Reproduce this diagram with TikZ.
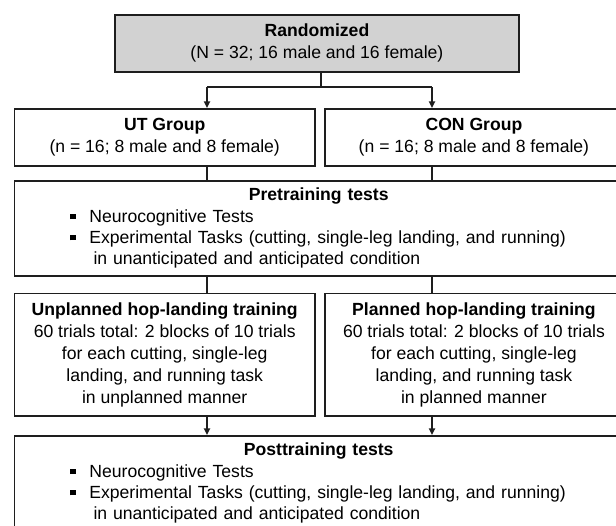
\documentclass[tikz,border=0pt]{standalone}
\usepackage{fontspec}
\setmainfont{Liberation Sans}
\usetikzlibrary{arrows.meta}
\definecolor{boxline}{RGB}{30,30,30}
\definecolor{randgray}{RGB}{210,210,210}
\newcommand{\sqitem}{\hspace*{42pt}\makebox[14.2pt][l]{\rule[0.18em]{0.3em}{0.3em}}}
\newcommand{\contline}{\hspace*{59.3pt}}

\begin{document}
\begin{tikzpicture}[x=0.75pt,y=-0.75pt,
  box/.style={draw=boxline,line width=1.4pt,anchor=north west,inner sep=0pt,align=center,font=\fontsize{13.2pt}{16.5pt}\selectfont},
  grp/.style={box,minimum height=42.75pt},
  lst/.style={box,align=left,text width=456.4pt,minimum height=71.25pt,font=\fontsize{13.2pt}{16pt}\selectfont},
  trn/.style={box,minimum height=91.9pt},
  ln/.style={draw=boxline,line width=1.3pt},
  f/.style={ln,-{Triangle[length=5pt,width=4.6pt]}}]
\useasboundingbox (0,0) rectangle (616,525);
\clip (0,0) rectangle (616,525);
% boxes
\node[grp,fill=randgray,minimum width=303pt] (rand) at (114,14) {\textbf{Randomized}\\(N = 32; 16 male and 16 female)};
\node[grp,minimum width=225.4pt] (ut) at (13.5,108) {\textbf{UT Group}\\(n = 16; 8 male and 8 female)};
\node[grp,minimum width=223.5pt] (con) at (324,108) {\textbf{CON Group}\\(n = 16; 8 male and 8 female)};
\node[lst] (pre) at (13.5,180) {\centerline{\textbf{Pretraining tests}}
  \sqitem Neurocognitive Tests\\
  \sqitem Experimental Tasks (cutting, single-leg landing, and running)\\
  \contline in unanticipated and anticipated condition};
\node[trn,minimum width=225.4pt] (utt) at (13.5,292.5) {\textbf{Unplanned hop-landing training}\\60 trials total: 2 blocks of 10 trials\\for each cutting, single-leg\\landing, and running task\\in unplanned manner};
\node[trn,minimum width=223.5pt] (cont) at (324,292.5) {\textbf{Planned hop-landing training}\\60 trials total: 2 blocks of 10 trials\\for each cutting, single-leg\\landing, and running task\\in planned manner};
\node[lst] (post) at (13.5,435) {\centerline{\textbf{Posttraining tests}}
  \sqitem Neurocognitive Tests\\
  \sqitem Experimental Tasks (cutting, single-leg landing, and running)\\
  \contline in unanticipated and anticipated condition};
% connectors
\coordinate (sp) at (321,87);
\coordinate (jl) at (207,87);
\coordinate (jr) at (432,87);
\draw[ln] (sp |- rand.south) -- (sp);
\draw[ln] (jl) -- (jr);
\draw[f] (jl) -- (jl |- ut.north);
\draw[f] (jr) -- (jr |- con.north);
\draw[ln] (jl |- ut.south) -- (jl |- pre.north);
\draw[ln] (jr |- con.south) -- (jr |- pre.north);
\draw[ln] (jl |- pre.south) -- (jl |- utt.north);
\draw[ln] (jr |- pre.south) -- (jr |- cont.north);
\draw[f] (jl |- utt.south) -- (jl |- post.north);
\draw[f] (jr |- cont.south) -- (jr |- post.north);
\end{tikzpicture}
\end{document}
